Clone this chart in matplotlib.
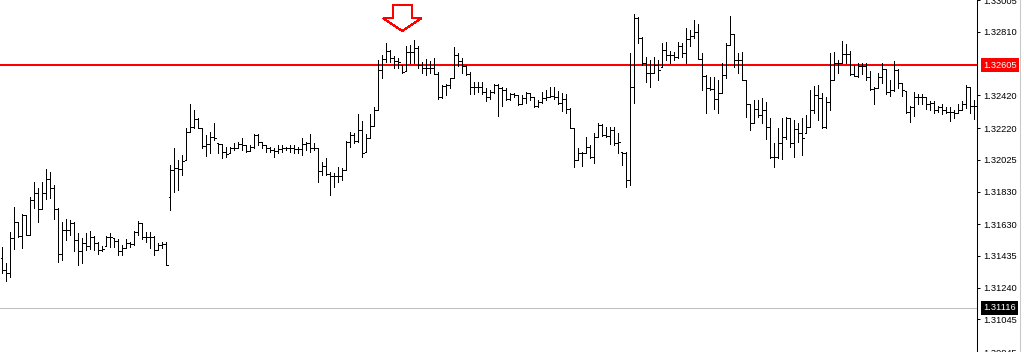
import matplotlib
matplotlib.use("Agg")
import matplotlib.pyplot as plt
from matplotlib.collections import LineCollection
from matplotlib.patches import Polygon
from matplotlib.lines import Line2D

plt.rcParams["font.family"] = ["Liberation Sans", "DejaVu Sans"]

# OHLC bars, one per bar from left to right
opens = [
    1.31425, 1.31351, 1.31333, 1.31547, 1.31645, 1.31559, 1.31688, 1.31565, 1.31780, 1.31823,
    1.31725, 1.31823, 1.31909, 1.31854, 1.31725, 1.31449, 1.31596, 1.31596, 1.31639, 1.31535,
    1.31468, 1.31517, 1.31498, 1.31553, 1.31517, 1.31474, 1.31498, 1.31553, 1.31547, 1.31529,
    1.31468, 1.31486, 1.31517, 1.31510, 1.31584, 1.31639, 1.31553, 1.31553, 1.31553, 1.31474,
    1.31504, 1.31510, 1.31798, 1.31964, 1.31976, 1.31970, 1.32025, 1.32197, 1.32227, 1.32277,
    1.32221, 1.32111, 1.32123, 1.32166, 1.32130, 1.32123, 1.32075, 1.32069, 1.32099, 1.32099,
    1.32123, 1.32117, 1.32081, 1.32105, 1.32178, 1.32136, 1.32117, 1.32099, 1.32087, 1.32081,
    1.32093, 1.32099, 1.32099, 1.32099, 1.32093, 1.32093, 1.32123, 1.32130, 1.32099, 1.32099,
    1.31958, 1.31988, 1.31939, 1.31927, 1.31927, 1.31927, 1.31964, 1.32136, 1.32178, 1.32142,
    1.32209, 1.32075, 1.32160, 1.32233, 1.32332, 1.32577, 1.32645, 1.32694, 1.32651, 1.32632,
    1.32607, 1.32571, 1.32688, 1.32688, 1.32712, 1.32607, 1.32589, 1.32589, 1.32589, 1.32552,
    1.32411, 1.32479, 1.32485, 1.32528, 1.32669, 1.32632, 1.32601, 1.32552, 1.32473, 1.32473,
    1.32473, 1.32442, 1.32411, 1.32442, 1.32485, 1.32467, 1.32454, 1.32399, 1.32429, 1.32423,
    1.32368, 1.32405, 1.32436, 1.32411, 1.32356, 1.32381, 1.32405, 1.32411, 1.32417, 1.32411,
    1.32375, 1.32399, 1.32338, 1.32221, 1.32025, 1.32069, 1.32069, 1.32105, 1.32044, 1.32166,
    1.32239, 1.32178, 1.32172, 1.32209, 1.32130, 1.32075, 1.32069, 1.31903, 1.32473, 1.32896,
    1.32773, 1.32620, 1.32559, 1.32559, 1.32607, 1.32595, 1.32700, 1.32669, 1.32669, 1.32657,
    1.32724, 1.32682, 1.32767, 1.32785, 1.32810, 1.32645, 1.32540, 1.32467, 1.32461, 1.32399,
    1.32436, 1.32546, 1.32730, 1.32797, 1.32638, 1.32638, 1.32516, 1.32368, 1.32252, 1.32338,
    1.32301, 1.32332, 1.32227, 1.32044, 1.32044, 1.32130, 1.32166, 1.32283, 1.32130, 1.32215,
    1.32191, 1.32191, 1.32227, 1.32332, 1.32423, 1.32405, 1.32227, 1.32381, 1.32516, 1.32620,
    1.32620, 1.32675, 1.32675, 1.32552, 1.32540, 1.32601, 1.32601, 1.32534, 1.32461, 1.32467,
    1.32534, 1.32583, 1.32442, 1.32454, 1.32577, 1.32498, 1.32448, 1.32320, 1.32350, 1.32411,
    1.32411, 1.32411, 1.32368, 1.32375, 1.32332, 1.32350, 1.32332, 1.32320, 1.32320, 1.32314,
    1.32332, 1.32368, 1.32473, 1.32356,
]
highs = [
    1.31492, 1.31394, 1.31584, 1.31737, 1.31645, 1.31694, 1.31688, 1.31798, 1.31891, 1.31854,
    1.31891, 1.31970, 1.31952, 1.31872, 1.31731, 1.31645, 1.31664, 1.31657, 1.31645, 1.31578,
    1.31547, 1.31578, 1.31590, 1.31559, 1.31523, 1.31498, 1.31559, 1.31578, 1.31547, 1.31541,
    1.31504, 1.31541, 1.31523, 1.31590, 1.31651, 1.31639, 1.31584, 1.31584, 1.31559, 1.31517,
    1.31523, 1.31523, 1.31994, 1.32099, 1.32025, 1.32056, 1.32221, 1.32368, 1.32332, 1.32283,
    1.32221, 1.32178, 1.32197, 1.32252, 1.32130, 1.32123, 1.32105, 1.32105, 1.32130, 1.32136,
    1.32160, 1.32117, 1.32117, 1.32184, 1.32184, 1.32136, 1.32117, 1.32105, 1.32099, 1.32117,
    1.32117, 1.32105, 1.32117, 1.32117, 1.32105, 1.32160, 1.32136, 1.32184, 1.32130, 1.32099,
    1.32013, 1.32038, 1.31952, 1.31946, 1.31982, 1.31976, 1.32142, 1.32197, 1.32191, 1.32307,
    1.32264, 1.32184, 1.32307, 1.32350, 1.32638, 1.32669, 1.32743, 1.32700, 1.32663, 1.32651,
    1.32607, 1.32724, 1.32730, 1.32761, 1.32724, 1.32626, 1.32645, 1.32632, 1.32651, 1.32565,
    1.32485, 1.32491, 1.32528, 1.32718, 1.32682, 1.32651, 1.32607, 1.32565, 1.32504, 1.32504,
    1.32504, 1.32467, 1.32454, 1.32491, 1.32491, 1.32473, 1.32467, 1.32436, 1.32436, 1.32423,
    1.32423, 1.32442, 1.32436, 1.32411, 1.32393, 1.32442, 1.32454, 1.32473, 1.32473, 1.32448,
    1.32436, 1.32429, 1.32344, 1.32221, 1.32099, 1.32075, 1.32166, 1.32117, 1.32191, 1.32252,
    1.32245, 1.32227, 1.32227, 1.32227, 1.32191, 1.32075, 1.32075, 1.32682, 1.32920, 1.32902,
    1.32779, 1.32657, 1.32638, 1.32657, 1.32638, 1.32743, 1.32749, 1.32694, 1.32688, 1.32749,
    1.32743, 1.32834, 1.32822, 1.32883, 1.32858, 1.32682, 1.32546, 1.32534, 1.32534, 1.32516,
    1.32620, 1.32743, 1.32908, 1.32797, 1.32682, 1.32688, 1.32516, 1.32368, 1.32393, 1.32393,
    1.32405, 1.32381, 1.32283, 1.32130, 1.32221, 1.32283, 1.32289, 1.32283, 1.32270, 1.32252,
    1.32283, 1.32301, 1.32454, 1.32479, 1.32485, 1.32436, 1.32411, 1.32682, 1.32688, 1.32638,
    1.32755, 1.32736, 1.32694, 1.32607, 1.32620, 1.32620, 1.32620, 1.32571, 1.32473, 1.32559,
    1.32620, 1.32583, 1.32516, 1.32632, 1.32583, 1.32498, 1.32448, 1.32356, 1.32442, 1.32429,
    1.32429, 1.32411, 1.32387, 1.32387, 1.32356, 1.32368, 1.32350, 1.32350, 1.32332, 1.32368,
    1.32387, 1.32485, 1.32473, 1.32393,
]
lows = [
    1.31333, 1.31278, 1.31308, 1.31480, 1.31553, 1.31486, 1.31565, 1.31565, 1.31731, 1.31645,
    1.31725, 1.31786, 1.31792, 1.31664, 1.31400, 1.31412, 1.31535, 1.31565, 1.31462, 1.31381,
    1.31394, 1.31474, 1.31480, 1.31474, 1.31449, 1.31462, 1.31498, 1.31492, 1.31492, 1.31443,
    1.31443, 1.31486, 1.31492, 1.31504, 1.31565, 1.31541, 1.31523, 1.31486, 1.31443, 1.31474,
    1.31486, 1.31381, 1.31719, 1.31829, 1.31841, 1.31933, 1.32025, 1.32197, 1.32221, 1.32221,
    1.32099, 1.32050, 1.32069, 1.32148, 1.32069, 1.32038, 1.32044, 1.32069, 1.32087, 1.32099,
    1.32087, 1.32075, 1.32081, 1.32099, 1.32117, 1.32099, 1.32075, 1.32075, 1.32044, 1.32069,
    1.32075, 1.32087, 1.32075, 1.32069, 1.32069, 1.32056, 1.32087, 1.32075, 1.32087, 1.31891,
    1.31933, 1.31933, 1.31810, 1.31860, 1.31891, 1.31903, 1.31964, 1.32105, 1.32130, 1.32136,
    1.32044, 1.32075, 1.32160, 1.32233, 1.32332, 1.32528, 1.32626, 1.32626, 1.32589, 1.32589,
    1.32559, 1.32571, 1.32620, 1.32620, 1.32589, 1.32559, 1.32546, 1.32559, 1.32552, 1.32399,
    1.32405, 1.32423, 1.32467, 1.32528, 1.32601, 1.32559, 1.32546, 1.32429, 1.32429, 1.32442,
    1.32429, 1.32387, 1.32399, 1.32436, 1.32295, 1.32356, 1.32393, 1.32393, 1.32411, 1.32362,
    1.32368, 1.32375, 1.32393, 1.32350, 1.32350, 1.32375, 1.32393, 1.32411, 1.32399, 1.32368,
    1.32326, 1.32314, 1.32221, 1.31982, 1.32025, 1.31988, 1.32069, 1.32038, 1.32007, 1.32166,
    1.32172, 1.32166, 1.32123, 1.32117, 1.32069, 1.31994, 1.31860, 1.31872, 1.32375, 1.32743,
    1.32607, 1.32504, 1.32473, 1.32559, 1.32516, 1.32595, 1.32638, 1.32620, 1.32638, 1.32651,
    1.32657, 1.32620, 1.32724, 1.32773, 1.32645, 1.32454, 1.32314, 1.32454, 1.32338, 1.32314,
    1.32436, 1.32528, 1.32730, 1.32595, 1.32559, 1.32516, 1.32289, 1.32209, 1.32252, 1.32289,
    1.32252, 1.32154, 1.32038, 1.31982, 1.32038, 1.32032, 1.32154, 1.32105, 1.32044, 1.32136,
    1.32056, 1.32191, 1.32227, 1.32314, 1.32270, 1.32221, 1.32221, 1.32332, 1.32516, 1.32559,
    1.32620, 1.32620, 1.32546, 1.32540, 1.32534, 1.32552, 1.32516, 1.32454, 1.32368, 1.32467,
    1.32498, 1.32429, 1.32417, 1.32448, 1.32467, 1.32417, 1.32314, 1.32258, 1.32295, 1.32368,
    1.32368, 1.32338, 1.32332, 1.32314, 1.32320, 1.32307, 1.32314, 1.32264, 1.32283, 1.32314,
    1.32332, 1.32344, 1.32314, 1.32277,
]
closes = [
    1.31351, 1.31333, 1.31547, 1.31645, 1.31559, 1.31688, 1.31565, 1.31780, 1.31823, 1.31725,
    1.31823, 1.31909, 1.31854, 1.31725, 1.31449, 1.31596, 1.31596, 1.31639, 1.31535, 1.31468,
    1.31517, 1.31498, 1.31553, 1.31517, 1.31474, 1.31480, 1.31553, 1.31553, 1.31529, 1.31468,
    1.31486, 1.31517, 1.31510, 1.31584, 1.31639, 1.31553, 1.31553, 1.31553, 1.31474, 1.31504,
    1.31510, 1.31381, 1.31964, 1.31976, 1.31970, 1.32019, 1.32197, 1.32227, 1.32277, 1.32221,
    1.32111, 1.32123, 1.32166, 1.32160, 1.32123, 1.32075, 1.32062, 1.32099, 1.32099, 1.32123,
    1.32117, 1.32081, 1.32105, 1.32178, 1.32136, 1.32117, 1.32099, 1.32087, 1.32081, 1.32093,
    1.32099, 1.32099, 1.32099, 1.32093, 1.32093, 1.32123, 1.32130, 1.32099, 1.32099, 1.31958,
    1.31988, 1.31939, 1.31927, 1.31927, 1.31927, 1.31964, 1.32136, 1.32178, 1.32142, 1.32209,
    1.32069, 1.32160, 1.32233, 1.32332, 1.32577, 1.32645, 1.32694, 1.32651, 1.32632, 1.32626,
    1.32565, 1.32688, 1.32688, 1.32712, 1.32607, 1.32589, 1.32589, 1.32589, 1.32552, 1.32411,
    1.32479, 1.32485, 1.32528, 1.32669, 1.32632, 1.32601, 1.32552, 1.32473, 1.32473, 1.32473,
    1.32442, 1.32411, 1.32442, 1.32485, 1.32467, 1.32454, 1.32399, 1.32429, 1.32423, 1.32368,
    1.32405, 1.32436, 1.32411, 1.32356, 1.32381, 1.32405, 1.32411, 1.32417, 1.32411, 1.32375,
    1.32399, 1.32338, 1.32221, 1.32025, 1.32069, 1.32069, 1.32105, 1.32044, 1.32166, 1.32239,
    1.32178, 1.32172, 1.32209, 1.32130, 1.32136, 1.32069, 1.31903, 1.32473, 1.32896, 1.32773,
    1.32620, 1.32559, 1.32559, 1.32607, 1.32577, 1.32700, 1.32669, 1.32669, 1.32657, 1.32724,
    1.32682, 1.32767, 1.32785, 1.32810, 1.32645, 1.32540, 1.32467, 1.32461, 1.32399, 1.32436,
    1.32546, 1.32730, 1.32797, 1.32638, 1.32638, 1.32516, 1.32368, 1.32252, 1.32338, 1.32301,
    1.32332, 1.32227, 1.32044, 1.32044, 1.32130, 1.32166, 1.32283, 1.32130, 1.32215, 1.32191,
    1.32160, 1.32227, 1.32332, 1.32423, 1.32405, 1.32227, 1.32381, 1.32516, 1.32620, 1.32620,
    1.32675, 1.32675, 1.32552, 1.32540, 1.32601, 1.32601, 1.32534, 1.32461, 1.32467, 1.32534,
    1.32583, 1.32442, 1.32454, 1.32577, 1.32498, 1.32454, 1.32320, 1.32350, 1.32411, 1.32411,
    1.32411, 1.32368, 1.32375, 1.32332, 1.32350, 1.32332, 1.32320, 1.32320, 1.32314, 1.32332,
    1.32368, 1.32473, 1.32356, 1.32356,
]

price_ticks = [1.33005, 1.32810, 1.32420, 1.32220, 1.32025, 1.31830,
               1.31630, 1.31435, 1.31240, 1.31045, 1.30845]
level_red = 1.32605     # horizontal line + red price tag
level_last = 1.31116    # grey line + black price tag

# down arrow marker above the highs (bar index / price)
arrow_bar = 100
arrow_tip = 1.32816
arrow_neck = 1.32894
arrow_top = 1.32975

fig = plt.figure(figsize=(10.24, 3.52), dpi=100)
ax = fig.add_axes([0, 0, 977 / 1024, 1])

n = len(closes)
verticals = [[(i, lows[i]), (i, highs[i])] for i in range(n)]
open_ticks = [[(i - 0.4, opens[i]), (i, opens[i])] for i in range(n)]
close_ticks = [[(i, closes[i]), (i + 0.4, closes[i])] for i in range(n)]
for segs in (verticals, open_ticks, close_ticks):
    ax.add_collection(LineCollection(segs, colors="black", linewidths=0.72,
                                     antialiaseds=False))

ax.axhline(level_red, color="#ff0000", lw=1.45, zorder=1)
ax.axhline(level_last, color="#c0c0c0", lw=0.75, zorder=1)

arrow = Polygon([
    (arrow_bar, arrow_tip),
    (arrow_bar + 4.8, arrow_neck),
    (arrow_bar + 2.4, arrow_neck),
    (arrow_bar + 2.4, arrow_top),
    (arrow_bar - 2.4, arrow_top),
    (arrow_bar - 2.4, arrow_neck),
    (arrow_bar - 4.8, arrow_neck),
], closed=True, facecolor="white", edgecolor="#ff0000", lw=0.72, antialiased=False)
ax.add_patch(arrow)

ax.set_xlim(-0.575, -0.575 + 977 / 4)
ax.set_ylim(1.33006 - 0.0000613 * 352, 1.33006)

ax.yaxis.tick_right()
ax.set_yticks(price_ticks)
ax.set_yticklabels([f"{t:.5f}" for t in price_ticks])
ax.tick_params(axis="y", direction="out", length=2.2, width=0.75, pad=2.3,
               labelsize=6.7, colors="black")
ax.set_xticks([])
for side in ("left", "top", "bottom"):
    ax.spines[side].set_visible(False)
ax.spines["right"].set_linewidth(0.75)

ytrans = ax.get_yaxis_transform()
for level, face in ((level_red, "#ff0000"), (level_last, "black")):
    ax.annotate(f"{level:.5f}", xy=(1, level), xycoords=ytrans,
                xytext=(4.3, 0), textcoords="offset points",
                ha="left", va="center", fontsize=6.7, color="white",
                bbox=dict(boxstyle="square,pad=0.25", fc=face, ec="none"),
                annotation_clip=False)

fig.add_artist(Line2D([1019.5 / 1024] * 2, [0, 1], transform=fig.transFigure,
                      color="#c8c8c8", lw=0.75, zorder=0))

fig.savefig("out.png", dpi=100, facecolor="white")
